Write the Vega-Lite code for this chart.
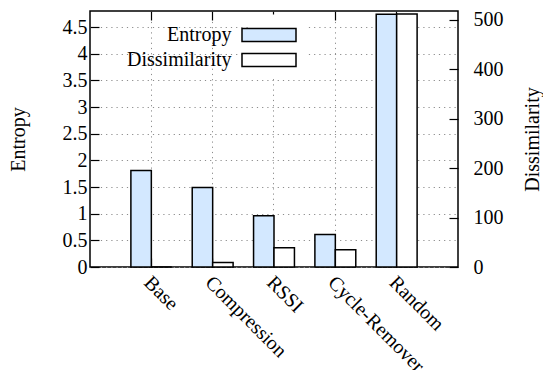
{
  "$schema": "https://vega.github.io/schema/vega-lite/v6.json",
  "width": 368,
  "height": 256,
  "autosize": "none",
  "padding": {"left": 90, "top": 11, "right": 85, "bottom": 103},
  "background": "white",
  "config": {
    "font": "Liberation Serif",
    "view": {"stroke": "black", "strokeWidth": 1.5},
    "axis": {
      "labelFont": "Liberation Serif",
      "titleFont": "Liberation Serif",
      "labelFontSize": 20,
      "titleFontSize": 20,
      "titleFontWeight": "normal",
      "labelColor": "black",
      "titleColor": "black",
      "tickColor": "black",
      "tickWidth": 1.2,
      "domain": false,
      "gridColor": "#8c8c8c",
      "gridDash": [1.2, 4],
      "gridWidth": 1
    },
    "legend": {"labelFont": "Liberation Serif", "labelFontSize": 20, "labelColor": "black"}
  },
  "data": {
    "values": [
      {"method": "Base", "series": "Entropy", "value": 1.81},
      {"method": "Compression", "series": "Entropy", "value": 1.49},
      {"method": "RSSI", "series": "Entropy", "value": 0.96},
      {"method": "Cycle-Remover", "series": "Entropy", "value": 0.61},
      {"method": "Random", "series": "Entropy", "value": 4.74},
      {"method": "Base", "series": "Dissimilarity", "value": 0},
      {"method": "Compression", "series": "Dissimilarity", "value": 9},
      {"method": "RSSI", "series": "Dissimilarity", "value": 39},
      {"method": "Cycle-Remover", "series": "Dissimilarity", "value": 35},
      {"method": "Random", "series": "Dissimilarity", "value": 512}
    ]
  },
  "encoding": {
    "x": {
      "field": "method",
      "type": "nominal",
      "sort": null,
      "scale": {"paddingInner": 0, "paddingOuter": 0.5}
    },
    "xOffset": {
      "field": "series",
      "sort": null,
      "scale": {"domain": ["Entropy", "Dissimilarity"], "paddingInner": 0, "paddingOuter": 0.5}
    },
    "color": {
      "field": "series",
      "type": "nominal",
      "scale": {"domain": ["Entropy", "Dissimilarity"], "range": ["#d3e8ff", "#ffffff"]},
      "legend": {
        "title": null,
        "orient": "none",
        "legendX": 158.5,
        "legendY": 3.5,
        "symbolType": "M-2,-0.48H2V0.48H-2Z",
        "symbolSize": 729,
        "symbolStrokeColor": "black",
        "symbolStrokeWidth": 1.5,
        "symbolOpacity": 1,
        "labelAlign": "right",
        "labelOffset": -52,
        "rowPadding": -1,
        "fillColor": "white",
        "padding": 6
      }
    }
  },
  "layer": [
    {
      "transform": [{"filter": "datum.series === 'Entropy'"}],
      "mark": {"type": "bar", "stroke": "black", "strokeWidth": 1.5},
      "encoding": {
        "x": {
          "field": "method",
          "type": "nominal",
          "sort": null,
          "scale": {"paddingInner": 0, "paddingOuter": 0.5},
          "axis": {
            "orient": "bottom",
            "title": null,
            "bandPosition": 0.5,
            "tickSize": -9,
            "grid": true,
            "labelAngle": 45,
            "labelAlign": "left",
            "labelBaseline": "top",
            "labelPadding": 14,
            "labelOffset": 3,
            "labelFontSize": 20
          }
        },
        "y": {
          "field": "value",
          "type": "quantitative",
          "scale": {"domain": [0, 4.8], "nice": false, "zero": true},
          "axis": {
            "orient": "left",
            "title": "Entropy",
            "values": [0, 0.5, 1, 1.5, 2, 2.5, 3, 3.5, 4, 4.5],
            "format": "~g",
            "tickSize": -9,
            "labelPadding": 12,
            "grid": true,
            "titleAngle": 270,
            "titleX": -72,
            "titleY": 128,
            "titleAlign": "center",
            "titleBaseline": "middle"
          }
        }
      }
    },
    {
      "transform": [{"filter": "datum.series === 'Dissimilarity'"}],
      "mark": {"type": "bar", "stroke": "black", "strokeWidth": 1.5},
      "encoding": {
        "x": {
          "field": "method",
          "type": "nominal",
          "sort": null,
          "scale": {"paddingInner": 0, "paddingOuter": 0.5},
          "axis": {
            "orient": "top",
            "title": null,
            "bandPosition": 0.5,
            "tickSize": -9,
            "labels": false,
            "grid": false
          }
        },
        "y": {
          "field": "value",
          "type": "quantitative",
          "scale": {"domain": [0, 518], "nice": false, "zero": true},
          "axis": {
            "orient": "right",
            "title": "Dissimilarity",
            "values": [0, 100, 200, 300, 400, 500],
            "tickSize": -9,
            "labelPadding": 24,
            "grid": false,
            "titleAngle": 270,
            "titleX": 74,
            "titleY": 128,
            "titleAlign": "center",
            "titleBaseline": "middle"
          }
        }
      }
    }
  ],
  "resolve": {"scale": {"y": "independent"}, "axis": {"x": "independent", "y": "independent"}}
}
